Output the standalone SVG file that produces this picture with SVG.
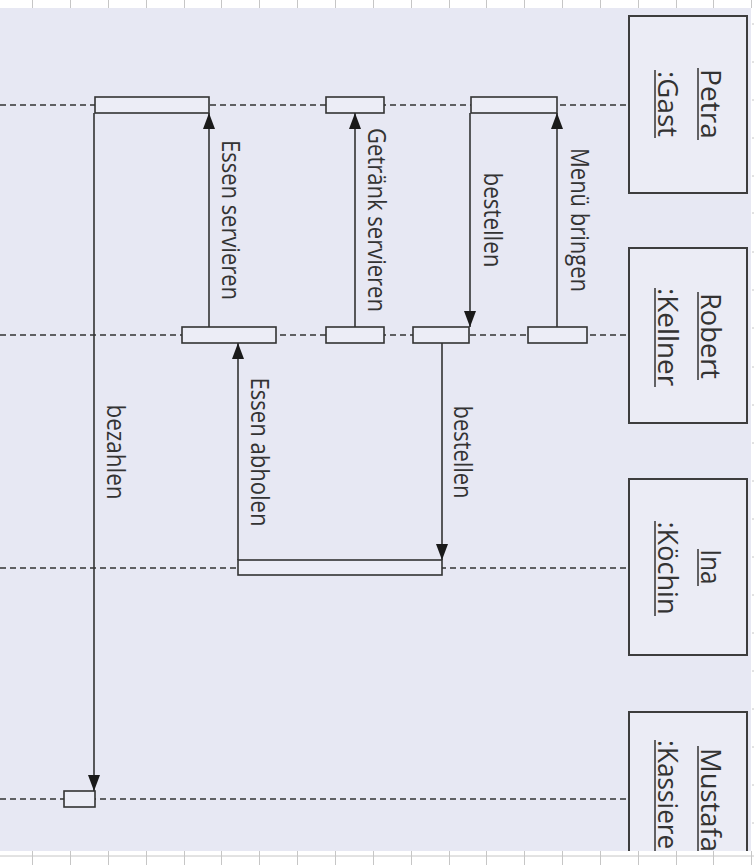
<svg xmlns="http://www.w3.org/2000/svg" width="754" height="865" viewBox="0 0 754 865">
<style>
.bg{fill:#e7e8f3}
.head{fill:#ebecf5;stroke:#3d3d3d;stroke-width:2}
.bar{fill:#ecedf6;stroke:#333;stroke-width:1.6}
.life{stroke:#333;stroke-width:1.6;stroke-dasharray:6 4;fill:none}
.msg{stroke:#333;stroke-width:1.6;fill:none;marker-end:url(#ah)}
.ul{stroke:#333;stroke-width:1.5}
.t{font-family:"Open Sans","Liberation Sans",sans-serif;fill:#333;text-anchor:middle}
.h{font-size:20px}
.m{font-size:18px}
.rul{stroke:#c6c6c6;stroke-width:1}
</style>
<defs>
<marker id="ah" viewBox="0 0 16 12" markerWidth="16" markerHeight="12" refX="16" refY="6" orient="auto" markerUnits="userSpaceOnUse">
<path d="M0,0 L16,6 L0,12 Z" fill="#1a1a1a"/>
</marker>
</defs>
<rect x="0" y="0" width="754" height="865" fill="#ffffff"/>
<rect class="bg" x="0" y="8" width="751" height="843"/>

<g id="lifelines">
<line class="life" x1="0" y1="105" x2="629" y2="105"/>
<line class="life" x1="0" y1="335" x2="629" y2="335"/>
<line class="life" x1="0" y1="568" x2="629" y2="568"/>
<line class="life" x1="0" y1="799" x2="629" y2="799"/>
</g>

<g id="petra">
<rect class="head" x="629" y="16" width="118" height="177"/>
<text class="t h" transform="translate(701,104) scale(1.4,1) rotate(90)" textLength="70" lengthAdjust="spacingAndGlyphs">Petra</text>
<line class="ul" x1="698" y1="68" x2="698" y2="140"/>
<text class="t h" transform="translate(658,104) scale(1.4,1) rotate(90)" textLength="66" lengthAdjust="spacingAndGlyphs">:Gast</text>
<line class="ul" x1="655" y1="70" x2="655" y2="138"/>
<rect class="bar" x="95" y="97" width="114" height="16"/>
<rect class="bar" x="326" y="97" width="58" height="16"/>
<rect class="bar" x="471" y="97" width="86" height="16"/>
</g>

<g id="robert">
<rect class="head" x="629" y="248" width="118" height="175"/>
<text class="t h" transform="translate(701,336) scale(1.4,1) rotate(90)" textLength="86" lengthAdjust="spacingAndGlyphs">Robert</text>
<line class="ul" x1="698" y1="292" x2="698" y2="380"/>
<text class="t h" transform="translate(658,337) scale(1.4,1) rotate(90)" textLength="98" lengthAdjust="spacingAndGlyphs">:Kellner</text>
<line class="ul" x1="655" y1="288" x2="655" y2="387"/>
<rect class="bar" x="182" y="327" width="94" height="16"/>
<rect class="bar" x="326" y="327" width="58" height="16"/>
<rect class="bar" x="413" y="327" width="56" height="16"/>
<rect class="bar" x="528" y="327" width="59" height="16"/>
</g>

<g id="ina">
<rect class="head" x="629" y="479" width="118" height="176"/>
<text class="t h" transform="translate(701,567) scale(1.4,1) rotate(90)" textLength="35" lengthAdjust="spacingAndGlyphs">Ina</text>
<line class="ul" x1="698" y1="549" x2="698" y2="586"/>
<text class="t h" transform="translate(658,568) scale(1.4,1) rotate(90)" textLength="93" lengthAdjust="spacingAndGlyphs">:Köchin</text>
<line class="ul" x1="655" y1="521" x2="655" y2="616"/>
<rect class="bar" x="238" y="560" width="204" height="15"/>
</g>

<g id="mustafa">
<rect class="head" x="629" y="712" width="118" height="176"/>
<text class="t h" transform="translate(701,800) scale(1.4,1) rotate(90)" textLength="104" lengthAdjust="spacingAndGlyphs">Mustafa</text>
<line class="ul" x1="698" y1="746" x2="698" y2="855"/>
<text class="t h" transform="translate(658,800) scale(1.4,1) rotate(90)" textLength="120" lengthAdjust="spacingAndGlyphs">:Kassierer</text>
<line class="ul" x1="655" y1="740" x2="655" y2="860"/>
<rect class="bar" x="64" y="791" width="31" height="16"/>
</g>

<g id="connectors">
<path class="msg" d="M557,327 V113"/>
<path class="msg" d="M470,113 V327"/>
<path class="msg" d="M355,327 V113"/>
<path class="msg" d="M209,327 V113"/>
<path class="msg" d="M442,343 V560"/>
<path class="msg" d="M238,560 V343"/>
<path class="msg" d="M94,113 V791"/>
<text class="t m" transform="translate(571,220) scale(1.4,1) rotate(90)" textLength="144" lengthAdjust="spacingAndGlyphs">Menü bringen</text>
<text class="t m" transform="translate(484,220) scale(1.4,1) rotate(90)" textLength="95" lengthAdjust="spacingAndGlyphs">bestellen</text>
<text class="t m" transform="translate(368,220) scale(1.4,1) rotate(90)" textLength="184" lengthAdjust="spacingAndGlyphs">Getränk servieren</text>
<text class="t m" transform="translate(222,220) scale(1.4,1) rotate(90)" textLength="160" lengthAdjust="spacingAndGlyphs">Essen servieren</text>
<text class="t m" transform="translate(251,452) scale(1.4,1) rotate(90)" textLength="149" lengthAdjust="spacingAndGlyphs">Essen abholen</text>
<text class="t m" transform="translate(454,452) scale(1.4,1) rotate(90)" textLength="93" lengthAdjust="spacingAndGlyphs">bestellen</text>
<text class="t m" transform="translate(107,452) scale(1.4,1) rotate(90)" textLength="95" lengthAdjust="spacingAndGlyphs">bezahlen</text>
</g>

<g id="rulers">
<rect x="0" y="851" width="754" height="14" fill="#ffffff"/>
<rect x="0" y="0" width="754" height="8" fill="#ffffff"/>
<rect x="751" y="0" width="3" height="865" fill="#ffffff"/>
<line class="rul" x1="0" y1="856" x2="754" y2="856"/>
<path class="rul" d="M32.5,0V8M70.5,0V8M108.5,0V8M146.5,0V8M184.5,0V8M221.5,0V8M259.5,0V8M297.5,0V8M335.5,0V8M373.5,0V8M411.5,0V8M449.5,0V8M486.5,0V8M524.5,0V8M562.5,0V8M600.5,0V8M638.5,0V8M676.5,0V8M713.5,0V8M751.5,0V8"/>
<path class="rul" d="M32.5,851V865M70.5,851V865M108.5,851V865M146.5,851V865M184.5,851V865M221.5,851V865M259.5,851V865M297.5,851V865M335.5,851V865M373.5,851V865M411.5,851V865M449.5,851V865M486.5,851V865M524.5,851V865M562.5,851V865M600.5,851V865M638.5,851V865M676.5,851V865M713.5,851V865M751.5,851V865"/>
<path class="rul" d="M752,24H754M752,62H754M752,100H754M752,138H754M752,176H754M752,213H754M752,252H754M752,290H754M752,328H754M752,367H754M752,405H754M752,443H754M752,481H754M752,519H754M752,557H754M752,595H754M752,633H754M752,671H754M752,709H754M752,747H754M752,785H754M752,823H754"/>
</g>
</svg>
